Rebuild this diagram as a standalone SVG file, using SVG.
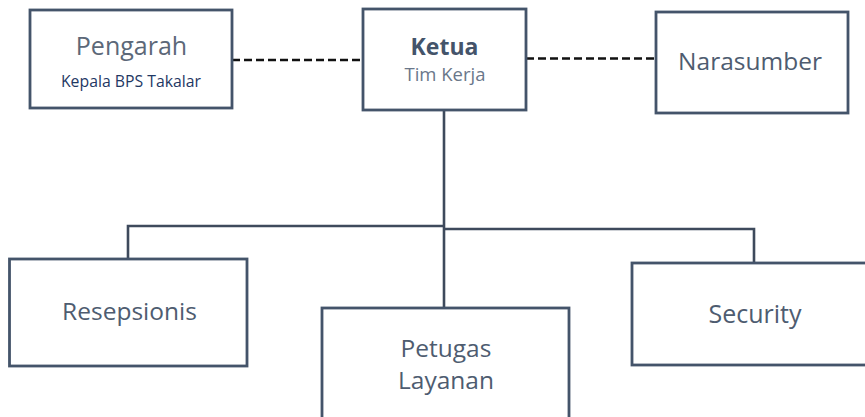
<svg xmlns="http://www.w3.org/2000/svg" width="865" height="417" viewBox="0 0 865 417">
<style>
.box{fill:#fff;stroke:#44546a;stroke-width:2.8}
.lbl{font-family:"Open Sans",sans-serif;fill:#4e5c70;text-anchor:middle}
.ln{fill:none;stroke:#3e4a5c;stroke-width:2.6}
.dash{fill:none;stroke:#111;stroke-width:2.6;stroke-dasharray:8 4}
</style>
<rect width="865" height="417" fill="#fff"/>
<g id="connectors">
<line class="dash" x1="232" y1="60" x2="363" y2="60"/>
<line class="dash" x1="526" y1="58.5" x2="656" y2="58.5"/>
<line class="ln" x1="444" y1="110" x2="444" y2="308"/>
<polyline class="ln" points="444,226 128,226 128,259"/>
<polyline class="ln" points="444,229 754,229 754,263"/>
</g>
<g id="pengarah">
<rect class="box" x="30" y="10" width="202" height="98"/>
<text class="lbl" x="131.5" y="55" font-size="25" style="fill:#5c6878">Pengarah</text>
<text class="lbl" x="131" y="87" font-size="15.8" style="fill:#1f3864">Kepala BPS Takalar</text>
</g>
<g id="ketua">
<rect class="box" x="363" y="9" width="163" height="101"/>
<text class="lbl" x="444.5" y="55" font-size="23" font-weight="bold" style="fill:#44546a">Ketua</text>
<text class="lbl" x="445" y="81" font-size="18.5" style="fill:#6a778a">Tim Kerja</text>
</g>
<g id="narasumber">
<rect class="box" x="656" y="12" width="192" height="101"/>
<text class="lbl" x="750" y="70" font-size="24.5">Narasumber</text>
</g>
<g id="resepsionis">
<rect class="box" x="9.5" y="259" width="237.5" height="107"/>
<text class="lbl" x="129.5" y="320" font-size="24.5">Resepsionis</text>
</g>
<g id="petugas">
<rect class="box" x="322" y="308" width="247" height="120"/>
<text class="lbl" x="446" y="357" font-size="24.5">Petugas</text>
<text class="lbl" x="446" y="389" font-size="24.5">Layanan</text>
</g>
<g id="security">
<rect class="box" x="632" y="263" width="250" height="102"/>
<text class="lbl" x="755" y="323" font-size="25">Security</text>
</g>
</svg>
